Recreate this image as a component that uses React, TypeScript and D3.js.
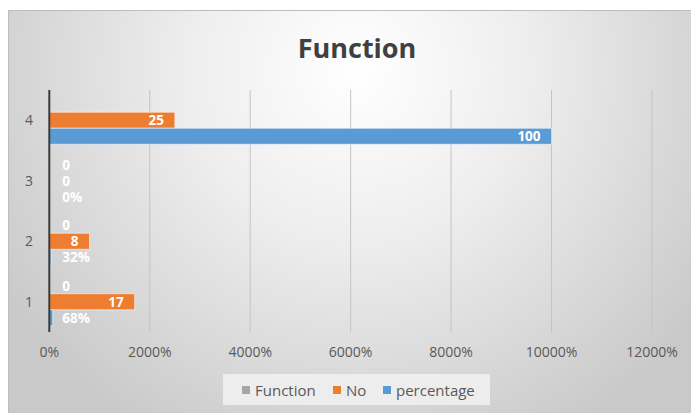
import { useEffect, useRef } from "react";
import * as d3 from "d3";

const W = 691;
const H = 413;

// categories bottom-to-top
const categories = ["1", "2", "3", "4"];
const seriesNames = ["Function", "No", "percentage"];
const seriesColors = ["#A5A5A5", "#ED7D31", "#5B9BD5"];
const functionValues: (number | null)[] = [0, 0, 0, null];
const noValues = [17, 8, 0, 25];
const percentageValues = [0.68, 0.32, 0, 100];
const percentageLabels = ["68%", "32%", "0%", "100"];
const xTicks = [0, 20, 40, 60, 80, 100, 120];

const FONT = "'Open Sans', 'Liberation Sans', sans-serif";

export default function App() {
  const svgRef = useRef<SVGSVGElement | null>(null);

  useEffect(() => {
    const svg = d3.select(svgRef.current);
    svg.selectAll("*").remove();

    const plot = { left: 49.3, right: 652, top: 90, bottom: 332 };

    // background gradient (white centre fading to gray)
    const defs = svg.append("defs");
    const grad = defs
      .append("radialGradient")
      .attr("id", "bgGrad")
      .attr("gradientUnits", "userSpaceOnUse")
      .attr("cx", 357)
      .attr("cy", 70)
      .attr("r", 420);
    grad.append("stop").attr("offset", "0%").attr("stop-color", "#ffffff");
    grad.append("stop").attr("offset", "40%").attr("stop-color", "#eeeeee");
    grad.append("stop").attr("offset", "100%").attr("stop-color", "#c9c9c9");

    svg
      .append("rect")
      .attr("x", 8.5)
      .attr("y", 10.5)
      .attr("width", W)
      .attr("height", H)
      .attr("fill", "url(#bgGrad)")
      .attr("stroke", "#bdbdbd");

    svg
      .append("text")
      .attr("x", 357)
      .attr("y", 58)
      .attr("text-anchor", "middle")
      .attr("font-family", FONT)
      .attr("font-weight", "bold")
      .attr("font-size", 27)
      .attr("fill", "#404040")
      .text("Function");

    const x = d3.scaleLinear().domain([0, 120]).range([plot.left, plot.right]);
    const y0 = d3
      .scaleBand<string>()
      .domain([...categories].reverse())
      .range([plot.top, plot.bottom])
      .paddingInner(0.206)
      .paddingOuter(0.103);
    const y1 = d3
      .scaleBand<string>()
      .domain(seriesNames)
      .range([0, y0.bandwidth()]);

    // gridlines
    svg
      .append("g")
      .selectAll("line")
      .data(xTicks.slice(1))
      .join("line")
      .attr("x1", (d) => x(d))
      .attr("x2", (d) => x(d))
      .attr("y1", plot.top)
      .attr("y2", plot.bottom)
      .attr("stroke", "#c4c4c4")
      .attr("stroke-width", 1);

    // x tick labels
    svg
      .append("g")
      .selectAll("text")
      .data(xTicks)
      .join("text")
      .attr("x", (d) => x(d))
      .attr("y", 357)
      .attr("text-anchor", "middle")
      .attr("font-family", FONT)
      .attr("font-size", 14)
      .attr("fill", "#595959")
      .text((d) => `${d * 100}%`);

    // y tick labels
    svg
      .append("g")
      .selectAll("text")
      .data(categories)
      .join("text")
      .attr("x", 33)
      .attr("y", (d) => (y0(d) ?? 0) + y0.bandwidth() / 2 + 5)
      .attr("text-anchor", "end")
      .attr("font-family", FONT)
      .attr("font-size", 14)
      .attr("fill", "#595959")
      .text((d) => d);

    const seriesData = [functionValues, noValues, percentageValues];
    const labelData = [
      functionValues.map((v) => (v == null ? null : String(v))),
      noValues.map((v) => String(v)),
      percentageLabels,
    ];

    const bars = svg.append("g");
    const labels = svg.append("g");

    seriesNames.forEach((name, si) => {
      categories.forEach((cat, ci) => {
        const v = seriesData[si][ci];
        if (v == null) return;
        const yTop = (y0(cat) ?? 0) + (y1(name) ?? 0);
        const bw = x(v) - x(0);
        if (bw > 0) {
          bars
            .append("rect")
            .attr("x", x(0))
            .attr("y", yTop)
            .attr("width", bw)
            .attr("height", y1.bandwidth())
            .attr("fill", seriesColors[si])
            .attr("stroke", "rgba(255,255,255,0.55)")
            .attr("stroke-width", 1);
        }
        const lbl = labelData[si][ci];
        if (lbl == null) return;
        const inside = bw > lbl.length * 8 + 16;
        labels
          .append("text")
          .attr("x", inside ? x(v) - 11 : x(0) + 13)
          .attr("y", yTop + y1.bandwidth() / 2 + 5)
          .attr("text-anchor", inside ? "end" : "start")
          .attr("font-family", FONT)
          .attr("font-weight", "bold")
          .attr("font-size", 13.5)
          .attr("fill", "#ffffff")
          .text(lbl);
      });
    });

    // y axis line
    svg
      .append("line")
      .attr("x1", plot.left)
      .attr("x2", plot.left)
      .attr("y1", plot.top)
      .attr("y2", plot.bottom)
      .attr("stroke", "#3a3a3a")
      .attr("stroke-width", 2);

    // legend
    const legend = svg.append("g");
    legend
      .append("rect")
      .attr("x", 223)
      .attr("y", 374)
      .attr("width", 267)
      .attr("height", 31)
      .attr("fill", "#efefef")
      .attr("opacity", 0.9);
    const legendX = [242, 333, 383];
    seriesNames.forEach((name, i) => {
      legend
        .append("rect")
        .attr("x", legendX[i])
        .attr("y", 386)
        .attr("width", 8)
        .attr("height", 8)
        .attr("fill", seriesColors[i]);
      legend
        .append("text")
        .attr("x", legendX[i] + 13)
        .attr("y", 395.5)
        .attr("font-family", FONT)
        .attr("font-size", 15)
        .attr("fill", "#595959")
        .text(name);
    });
  }, []);

  return (
    <svg
      ref={svgRef}
      width={W}
      height={H}
      style={{ position: "absolute", left: 0, top: 0, display: "block" }}
    />
  );
}
